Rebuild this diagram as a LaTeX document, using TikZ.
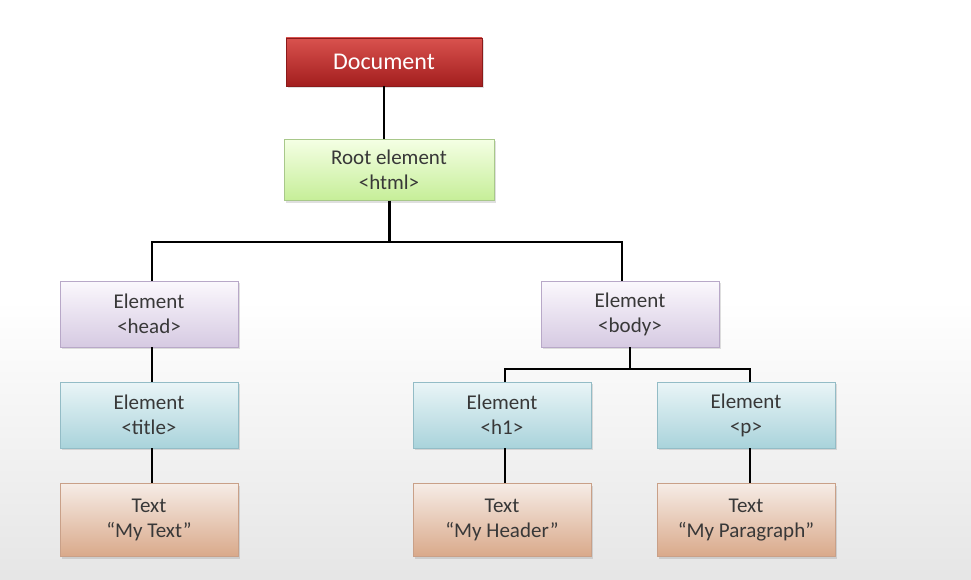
\documentclass[tikz,border=0pt]{standalone}
\usepackage{fontspec}
\setmainfont{Carlito}
\usetikzlibrary{shadows}

\definecolor{docTop}{HTML}{D9524E}
\definecolor{docBot}{HTML}{A31E1E}
\definecolor{docLine}{HTML}{8B1A1A}
\definecolor{rootTop}{HTML}{F4FFE4}
\definecolor{rootBot}{HTML}{C6EE98}
\definecolor{rootLine}{HTML}{A8C88A}
\definecolor{headTop}{HTML}{FBF8FD}
\definecolor{headBot}{HTML}{D6CAE2}
\definecolor{headLine}{HTML}{B8A8C8}
\definecolor{elemTop}{HTML}{EAF5F7}
\definecolor{elemBot}{HTML}{A9D3DB}
\definecolor{elemLine}{HTML}{93BCC6}
\definecolor{textTop}{HTML}{F6ECE6}
\definecolor{textBot}{HTML}{D9A98A}
\definecolor{textLine}{HTML}{C9A088}

\tikzset{
  box/.style={draw, rectangle, align=center, minimum width=178pt, minimum height=66pt,
    inner sep=2pt, text=black!78, font=\fontsize{21}{25}\selectfont,
    drop shadow={opacity=0.25, shadow xshift=2pt, shadow yshift=-2pt}},
  docbox/.style={box, minimum width=196pt, minimum height=48pt,
    top color=docTop, bottom color=docBot, draw=docLine, text=white,
    font=\fontsize{24}{28}\selectfont},
  rootbox/.style={box, minimum width=210pt, minimum height=61pt,
    top color=rootTop, bottom color=rootBot, draw=rootLine},
  headbox/.style={box, top color=headTop, bottom color=headBot, draw=headLine},
  elembox/.style={box, top color=elemTop, bottom color=elemBot, draw=elemLine},
  textbox/.style={box, minimum height=73pt, top color=textTop, bottom color=textBot, draw=textLine},
  link/.style={line width=2pt},
  stem/.style={line width=3pt}
}

\begin{document}
\begin{tikzpicture}[x=1pt,y=-1pt]
\useasboundingbox (0,0) rectangle (971,580);
% background
\fill[white] (0,0) rectangle (971,300);
\shade[top color=white, bottom color=black!10] (0,300) rectangle (971,580);

% boxes
\node[docbox] (doc) at (384,62) {Document};
\node[rootbox] (root) at (389,170) {Root element\\<html>};

\node[headbox] (head) at (149,314) {Element\\<head>};
\node[headbox] (body) at (630,314) {Element\\<body>};

\node[elembox] (title) at (149,415) {Element\\<title>};
\node[elembox] (hone) at (502,415) {Element\\<h1>};
\node[elembox] (para) at (746,415) {Element\\<p>};

\node[textbox] (ttitle) at (149,520) {Text\\“My Text”};
\node[textbox] (thone) at (502,520) {Text\\“My Header”};
\node[textbox] (tpara) at (746,520) {Text\\“My Paragraph”};

% connectors
\draw[link] (doc.south) -- (doc.south |- root.north);
\draw[stem] (root.south) -- (root.south |- 0,242) coordinate (rj);
\draw[link] ([xshift=3pt]head.north) |- (rj) -| ([xshift=-8pt]body.north);
\draw[link] ([xshift=3pt]head.south) -- ([xshift=3pt]title.north);
\draw[link] (body.south) -- (body.south |- 0,369) coordinate (bj);
\draw[link] ([xshift=3pt]hone.north) |- (bj) -| ([xshift=4pt]para.north);
\draw[link] ([xshift=3pt]title.south) -- ([xshift=3pt]ttitle.north);
\draw[link] ([xshift=3pt]hone.south) -- ([xshift=3pt]thone.north);
\draw[link] ([xshift=4pt]para.south) -- ([xshift=4pt]tpara.north);
\end{tikzpicture}
\end{document}
